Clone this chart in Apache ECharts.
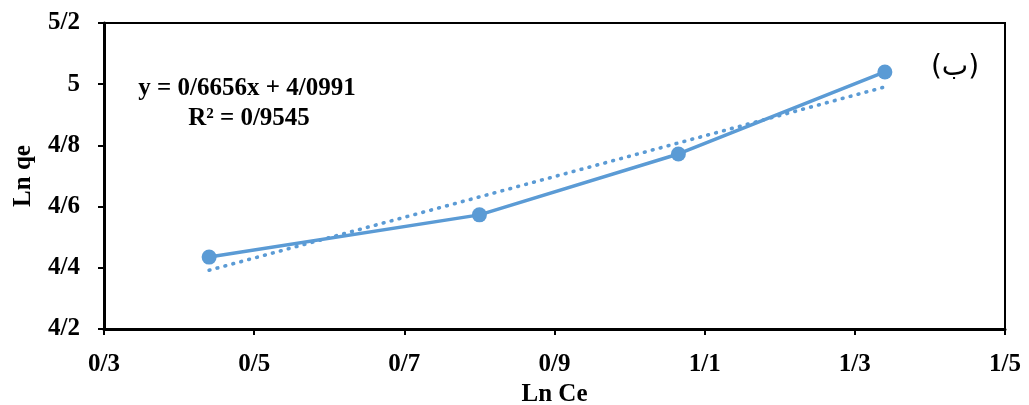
<!DOCTYPE html>
<html>
<head>
<meta charset="utf-8">
<script src="https://cdn.jsdelivr.net/npm/echarts@6/dist/echarts.min.js"></script>
<style>html,body{margin:0;padding:0;background:#fff;}#c{width:1029px;height:405px;}</style>
</head>
<body>
<div id="c"></div>
<script>
var lnCe = [0.44, 0.80, 1.065, 1.34];
var lnQe = [4.435, 4.573, 4.772, 5.04];
var trendX = [0.44, 1.34];
var trendY = [4.392, 4.991];
var equationText = 'y = 0/6656x + 4/0991';
var r2Text = 'R² = 0/9545';
var panelLabel = '(ب)';

function fmt(v){ return String(+(+v).toFixed(1)).replace('.', '/'); }
var font = '"Liberation Serif","Times New Roman",serif';
var chart = echarts.init(document.getElementById('c'));
chart.setOption({
  animation:false,
  grid:{left:104,right:24,top:23,bottom:76,outerBoundsMode:'none',containLabel:false,
    show:true,borderColor:'#000',borderWidth:2},
  xAxis:{type:'value',min:0.3,max:1.5,interval:0.2,
    name:'Ln Ce',nameLocation:'middle',nameGap:50,
    nameTextStyle:{fontFamily:font,fontWeight:'bold',fontSize:25,color:'#000'},
    axisLine:{show:true,onZero:false,lineStyle:{color:'#000',width:3}},
    axisTick:{show:true,length:6,lineStyle:{color:'#000',width:2}},
    axisLabel:{formatter:fmt,margin:23,fontFamily:font,fontWeight:'bold',fontSize:25,color:'#000',showMinLabel:true,showMaxLabel:true},
    splitLine:{show:false}},
  yAxis:{type:'value',min:4.2,max:5.2,interval:0.2,
    name:'Ln qe',nameLocation:'middle',nameGap:68,
    nameTextStyle:{fontFamily:font,fontWeight:'bold',fontSize:25,color:'#000'},
    axisLine:{show:true,onZero:false,lineStyle:{color:'#000',width:3}},
    axisTick:{show:true,length:6,lineStyle:{color:'#000',width:2}},
    axisLabel:{formatter:fmt,margin:24,fontFamily:font,fontWeight:'bold',fontSize:25,color:'#000',showMinLabel:true,showMaxLabel:true},
    splitLine:{show:false}},
  series:[
    {type:'line',data:trendX.map(function(x,i){return [x,trendY[i]];}),
     symbol:'none',lineStyle:{color:'#5B9BD5',width:3.6,type:[0.8,7.4],cap:'round'},z:2},
    {type:'line',data:lnCe.map(function(x,i){return [x,lnQe[i]];}),
     symbol:'circle',symbolSize:15,
     lineStyle:{color:'#5B9BD5',width:3.5},itemStyle:{color:'#5B9BD5'},z:3}
  ],
  graphic:[
    {type:'text',x:247,y:89,style:{text:equationText,font:'bold 25px '+font,fill:'#000',textAlign:'center',textVerticalAlign:'middle'}},
    {type:'text',x:249,y:119,style:{text:r2Text,font:'bold 25px '+font,fill:'#000',textAlign:'center',textVerticalAlign:'middle'}},
    {type:'text',x:955,y:68,style:{text:panelLabel,font:'28px "DejaVu Sans",sans-serif',fill:'#000',textAlign:'center',textVerticalAlign:'middle'}}
  ]
});
</script>
</body>
</html>
